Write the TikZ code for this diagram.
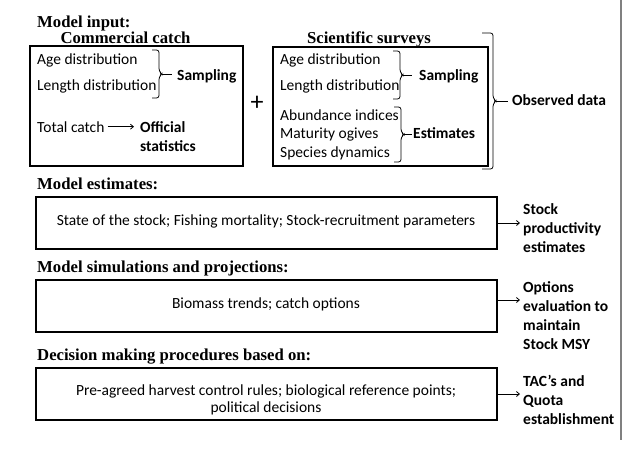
\documentclass[tikz,border=0pt]{standalone}
\usepackage{fontspec}
\setmainfont{Carlito}
\newfontfamily\headfont{Liberation Serif}
\usetikzlibrary{arrows.meta}
\newcommand{\bracketdraw}[5]{%
 \pgfmathsetmacro{\bym}{(#2+#3)/2}%
 \pgfmathsetmacro{\bx}{#1+#4}%
 \draw[line width=0.8pt,rounded corners=2.5pt] (#1,#2) -- (\bx,#2) -- (\bx,\bym-3) -- (\bx+3,\bym) -- (\bx,\bym+3) -- (\bx,#3) -- (#1,#3);
 \draw[line width=0.8pt] (\bx+3,\bym) -- (#5,\bym);}
\begin{document}
\begin{tikzpicture}[x=1pt,y=-1pt,
 box/.style={draw,line width=1.5pt,inner sep=0pt},
 txt/.style={inner sep=0pt,font=\fontsize{15.5}{19}\selectfont,anchor=base west},
 btxt/.style={inner sep=0pt,font=\fontsize{15.5}{19}\selectfont\bfseries,anchor=base west},
 lbl/.style={inner sep=0pt,font=\fontsize{15.5}{19}\selectfont\bfseries,align=left,anchor=west},
 head/.style={inner sep=0pt,font=\headfont\fontsize{16.7}{19}\selectfont\bfseries,anchor=base west},
 rowtxt/.style={inner sep=0pt,font=\fontsize{15.5}{17}\selectfont,align=center},
 arr/.style={-{Straight Barb[length=3pt,width=5pt]},line width=0.8pt}]
\useasboundingbox (0,0) rectangle (623,448);

% right gray rule
\coordinate (gtop) at (621,0);
\coordinate (gbot) at (621,440);
\draw[gray,line width=1.2pt] (gtop) -- (gbot);

% headings
\node[head] (hin) at (37,27) {Model input:};
\node[head,anchor=base] (hcc) at (125.5,43) {Commercial catch};
\node[head,anchor=base] (hss) at (369,43) {Scientific surveys};
\node[head] (hest) at (37,189) {Model estimates:};
\node[head] (hsim) at (37,272) {Model simulations and projections:};
\node[head] (hdec) at (37,360) {Decision making procedures based on:};

% top boxes
\node[box,minimum width=213pt,minimum height=120pt] (cc) at (136.5,106) {};
\node[box,minimum width=215pt,minimum height=119pt] (ss) at (380.5,106.5) {};
\node[inner sep=0pt,font=\fontsize{26}{26}\selectfont] (plus) at (257,103) {+};

% commercial catch contents
\node[txt] (age1) at (37,64) {Age distribution};
\node[txt] (len1) at (37,90) {Length distribution};
\node[txt] (tc) at (37,132) {Total catch};
\node[btxt] (samp1) at (177,80) {Sampling};
\node[lbl] (off) at (140,136.5) {Official\\statistics};
\bracketdraw{152}{50}{98}{7}{172}
\draw[arr,shorten <=3pt,shorten >=6pt] (tc.east) -- (tc.east -| off.west);

% scientific surveys contents
\node[txt] (age2) at (280,64) {Age distribution};
\node[txt] (len2) at (280,90) {Length distribution};
\node[txt] (ab) at (280,120) {Abundance indices};
\node[txt] (mat) at (280,138) {Maturity ogives};
\node[txt] (sp) at (280,157) {Species dynamics};
\node[btxt] (samp2) at (419,80) {Sampling};
\node[btxt] (est) at (413,138) {Estimates};
\node[btxt] (obs) at (512,105) {Observed data};
\bracketdraw{393}{51}{99}{7}{412}
\bracketdraw{394}{107}{162}{7}{412}
\bracketdraw{482}{33}{169}{11}{508}

% row boxes
\node[box,minimum width=461pt,minimum height=52pt] (r1) at (266.5,223) {};
\node[box,minimum width=461pt,minimum height=52pt] (r2) at (266.5,306) {};
\node[box,minimum width=461pt,minimum height=52pt] (r3) at (266.5,394) {};
\node[rowtxt] (t1) at (266,221) {State of the stock; Fishing mortality; Stock-recruitment parameters};
\node[rowtxt] (t2) at (266,304) {Biomass trends; catch options};
\node[rowtxt] (t3) at (266,399.5) {Pre-agreed harvest control rules; biological reference points;\\political decisions};

% right labels
\node[lbl] (l1) at (523,228) {Stock\\productivity\\estimates};
\node[lbl] (l2) at (523,315.5) {Options\\evaluation to\\maintain\\Stock MSY};
\node[lbl] (l3) at (523,399.5) {TAC’s and\\Quota\\establishment};
\draw[arr,shorten >=3pt] (r1.east) -- (r1.east -| l1.west);
\draw[arr,shorten >=3pt] ([yshift=6pt]r2.east) -- ([yshift=6pt]r2.east -| l2.west);
\draw[arr,shorten >=3pt] (r3.east) -- (r3.east -| l3.west);
\end{tikzpicture}
\end{document}
